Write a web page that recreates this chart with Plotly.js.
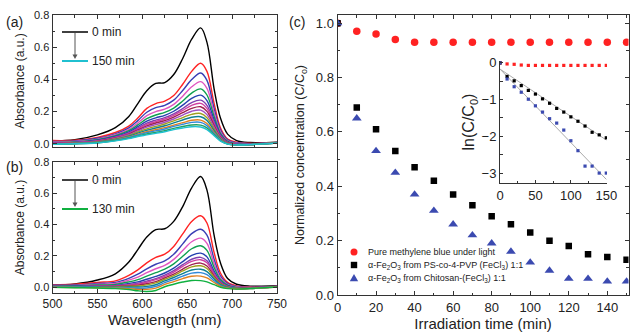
<!DOCTYPE html>
<html><head><meta charset="utf-8">
<script src="https://cdn.plot.ly/plotly-3.0.1.min.js"></script>
<style>html,body{margin:0;padding:0;background:#fff}#chart{width:633px;height:333px}</style>
</head><body><div id="chart"></div>
<script>
// ---------- DATA ----------
const wavelength = [500,525,550,570,585,595,605,615,625,635,645,655,665,672,680,687,695,705,720,750];

// Panel (a): spectra every 10 min, 0-150 min
const timesA = [0,10,20,30,40,50,60,70,80,90,100,110,120,130,140,150];
const spectraA = [
  [0.016,0.025,0.055,0.10,0.17,0.25,0.33,0.375,0.38,0.43,0.53,0.65,0.72,0.63,0.34,0.16,0.06,0.02,0.008,0.01],
  [0.02,0.022,0.04,0.07,0.11,0.16,0.22,0.25,0.265,0.30,0.37,0.45,0.50,0.45,0.25,0.10,0.03,0.01,0.003,0.008],
  [0.015,0.018,0.034,0.062,0.099,0.144,0.196,0.224,0.239,0.271,0.331,0.399,0.44,0.394,0.219,0.087,0.024,0.006,0.001,0.008],
  [0.012,0.015,0.029,0.056,0.089,0.129,0.175,0.200,0.215,0.245,0.296,0.354,0.386,0.344,0.192,0.075,0.019,0.003,-0.001,0.007],
  [0.009,0.012,0.025,0.050,0.081,0.117,0.156,0.179,0.195,0.222,0.266,0.315,0.341,0.303,0.169,0.065,0.015,0.001,-0.002,0.007],
  [0.006,0.009,0.022,0.045,0.074,0.106,0.141,0.161,0.177,0.202,0.240,0.282,0.302,0.268,0.149,0.057,0.011,-0.002,-0.003,0.007],
  [0.004,0.008,0.019,0.041,0.068,0.097,0.128,0.147,0.162,0.186,0.219,0.256,0.271,0.239,0.133,0.051,0.008,-0.003,-0.004,0.007],
  [0.003,0.006,0.017,0.039,0.064,0.092,0.120,0.138,0.154,0.177,0.207,0.239,0.251,0.220,0.123,0.046,0.007,-0.004,-0.004,0.006],
  [0.001,0.005,0.015,0.036,0.060,0.086,0.111,0.129,0.144,0.166,0.193,0.220,0.230,0.201,0.113,0.042,0.005,-0.005,-0.005,0.006],
  [0.000,0.004,0.013,0.033,0.056,0.080,0.103,0.119,0.134,0.154,0.178,0.202,0.209,0.181,0.102,0.037,0.003,-0.006,-0.005,0.006],
  [-0.001,0.003,0.012,0.030,0.051,0.073,0.093,0.108,0.123,0.142,0.163,0.183,0.188,0.162,0.091,0.033,0.002,-0.007,-0.005,0.006],
  [-0.002,0.002,0.010,0.027,0.047,0.066,0.084,0.098,0.112,0.130,0.148,0.165,0.168,0.145,0.081,0.029,0.001,-0.007,-0.005,0.005],
  [-0.002,0.001,0.008,0.024,0.042,0.059,0.075,0.087,0.100,0.116,0.131,0.146,0.147,0.126,0.071,0.025,0.000,-0.007,-0.005,0.005],
  [-0.003,0.001,0.007,0.022,0.039,0.055,0.069,0.080,0.092,0.108,0.121,0.133,0.133,0.113,0.064,0.022,-0.001,-0.007,-0.005,0.005],
  [-0.003,0.000,0.006,0.020,0.035,0.049,0.061,0.071,0.082,0.096,0.107,0.117,0.116,0.099,0.056,0.019,-0.002,-0.007,-0.005,0.004],
  [-0.003,0.000,0.005,0.018,0.032,0.045,0.055,0.065,0.075,0.088,0.098,0.106,0.104,0.088,0.050,0.017,-0.002,-0.007,-0.005,0.004]
];

// Panel (b): spectra every 10 min, 0-130 min
const timesB = [0,10,20,30,40,50,60,70,80,90,100,110,120,130];
const spectraB = [
  [0.012,0.02,0.045,0.085,0.16,0.24,0.32,0.368,0.373,0.42,0.515,0.635,0.707,0.62,0.33,0.155,0.055,0.018,0.006,0.008],
  [0.015,0.018,0.03,0.04,0.075,0.11,0.155,0.19,0.21,0.26,0.34,0.42,0.456,0.41,0.22,0.09,0.03,0.008,0.0,0.006],
  [0.012,0.013,0.023,0.030,0.056,0.082,0.117,0.146,0.167,0.210,0.276,0.342,0.370,0.332,0.178,0.071,0.022,0.004,-0.002,0.005],
  [0.009,0.010,0.018,0.023,0.044,0.064,0.092,0.117,0.138,0.177,0.234,0.290,0.313,0.280,0.149,0.059,0.016,0.001,-0.003,0.004],
  [0.007,0.008,0.013,0.017,0.033,0.048,0.070,0.092,0.114,0.148,0.197,0.245,0.264,0.235,0.125,0.048,0.012,-0.002,-0.005,0.003],
  [0.005,0.005,0.009,0.011,0.023,0.033,0.050,0.068,0.090,0.121,0.163,0.202,0.217,0.193,0.102,0.038,0.007,-0.004,-0.006,0.003],
  [0.004,0.004,0.007,0.008,0.017,0.024,0.038,0.054,0.077,0.105,0.143,0.178,0.190,0.168,0.089,0.032,0.004,-0.006,-0.006,0.002],
  [0.004,0.003,0.006,0.006,0.013,0.019,0.031,0.047,0.069,0.096,0.132,0.164,0.175,0.155,0.081,0.028,0.003,-0.006,-0.007,0.002],
  [0.003,0.002,0.004,0.004,0.009,0.012,0.021,0.035,0.058,0.083,0.115,0.144,0.153,0.135,0.070,0.024,0.001,-0.007,-0.007,0.002],
  [0.002,0.001,0.002,0.001,0.005,0.007,0.014,0.027,0.050,0.073,0.103,0.129,0.136,0.119,0.062,0.020,-0.001,-0.008,-0.008,0.001],
  [0.001,0.000,0.000,-0.001,0.000,0.000,0.004,0.015,0.039,0.061,0.086,0.109,0.114,0.099,0.051,0.015,-0.003,-0.009,-0.008,0.001],
  [0.000,-0.001,-0.002,-0.004,-0.005,-0.008,-0.006,0.004,0.028,0.048,0.070,0.089,0.092,0.079,0.040,0.010,-0.005,-0.010,-0.009,0.001],
  [-0.001,-0.003,-0.004,-0.007,-0.010,-0.015,-0.015,-0.007,0.017,0.035,0.054,0.069,0.070,0.059,0.029,0.005,-0.007,-0.012,-0.009,0.000],
  [-0.002,-0.004,-0.006,-0.010,-0.016,-0.024,-0.028,-0.022,0.002,0.018,0.032,0.042,0.041,0.033,0.015,-0.001,-0.010,-0.013,-0.010,0.000]
];

// Panel (c): normalized concentration vs irradiation time
const irradTime = [0,10,20,30,40,50,60,70,80,90,100,110,120,130,140,150];
const pureMB   = [1.0,0.97,0.96,0.94,0.93,0.93,0.93,0.93,0.93,0.93,0.93,0.93,0.93,0.93,0.93,0.93];
const psPVP    = [1.0,0.69,0.61,0.53,0.47,0.42,0.37,0.33,0.29,0.26,0.23,0.20,0.18,0.15,0.14,0.13];
const chitosan = [1.0,0.65,0.53,0.45,0.37,0.31,0.26,0.22,0.19,0.16,0.12,0.09,0.06,0.06,0.05,0.05];

// Inset: ln(C/C0)
const lnMB   = [0,-0.03,-0.04,-0.06,-0.07,-0.07,-0.07,-0.07,-0.07,-0.07,-0.07,-0.07,-0.07,-0.07,-0.07,-0.07];
const lnPVP  = [0,-0.37,-0.49,-0.62,-0.75,-0.85,-0.98,-1.10,-1.24,-1.34,-1.47,-1.59,-1.72,-1.89,-1.96,-2.04];
const lnChi  = [0,-0.44,-0.65,-0.80,-0.99,-1.17,-1.34,-1.52,-1.64,-1.83,-2.12,-2.39,-2.81,-2.81,-3.00,-3.00];
const fitTime = [0,150];
const fitPVP  = [-0.17,-2.10];
const fitChi  = [-0.17,-3.17];

const legendLabels = ['Pure methylene blue under light',
  'α-Fe<sub>2</sub>O<sub>3</sub> from PS-co-4-PVP (FeCl<sub>3</sub>) 1:1',
  'α-Fe<sub>2</sub>O<sub>3</sub> from Chitosan-(FeCl<sub>3</sub>) 1:1'];

// ---------- STYLE ----------
const paletteA = ['#000000','#ff2424','#3a3fb5','#e055c0','#10a050','#2440b0','#8040b0','#d040a0',
                  '#a02050','#a050c0','#a0a020','#108090','#e08020','#3088d8','#20a060','#20c0d0'];
const paletteB = ['#000000','#ff2424','#3a3fb5','#e055c0','#10a050','#2440b0','#8040b0','#d040a0',
                  '#a02050','#a0a020','#108090','#3088d8','#e08020','#10b040'];
const FONT = 'Arial, "Liberation Sans", sans-serif';
const W = 633, H = 333;
const px = x => x / W, py = y => 1 - y / H;

const traces = [];
spectraA.forEach((s, i) => traces.push({
  x: wavelength, y: s, type: 'scatter', mode: 'lines', name: timesA[i] + ' min',
  xaxis: 'x', yaxis: 'y', line: {color: paletteA[i], width: 1.4, shape: 'spline', smoothing: 1},
  showlegend: false, hoverinfo: 'skip'
}));
spectraB.forEach((s, i) => traces.push({
  x: wavelength, y: s, type: 'scatter', mode: 'lines', name: timesB[i] + ' min',
  xaxis: 'x2', yaxis: 'y2', line: {color: paletteB[i], width: 1.4, shape: 'spline', smoothing: 1},
  showlegend: false, hoverinfo: 'skip'
}));
traces.push({x: irradTime, y: pureMB, type: 'scatter', mode: 'markers', name: legendLabels[0],
  xaxis: 'x3', yaxis: 'y3', marker: {color: '#ff2222', size: 7.5, symbol: 'circle'}, showlegend: false});
traces.push({x: irradTime, y: psPVP, type: 'scatter', mode: 'markers', name: legendLabels[1],
  xaxis: 'x3', yaxis: 'y3', marker: {color: '#000000', size: 6.5, symbol: 'square'}, showlegend: false});
traces.push({x: irradTime, y: chitosan, type: 'scatter', mode: 'markers', name: legendLabels[2],
  xaxis: 'x3', yaxis: 'y3', marker: {color: '#3b4ab0', size: 8.5, symbol: 'triangle-up'}, showlegend: false});
// inset
traces.push({x: fitTime, y: fitPVP, type: 'scatter', mode: 'lines', xaxis: 'x4', yaxis: 'y4',
  line: {color: '#aaaaaa', width: 1}, showlegend: false, hoverinfo: 'skip'});
traces.push({x: fitTime, y: fitChi, type: 'scatter', mode: 'lines', xaxis: 'x4', yaxis: 'y4',
  line: {color: '#aaaaaa', width: 1}, showlegend: false, hoverinfo: 'skip'});
traces.push({x: irradTime, y: lnMB, type: 'scatter', mode: 'markers', xaxis: 'x4', yaxis: 'y4',
  marker: {color: '#ff2222', size: 3.2, symbol: 'square'}, showlegend: false});
traces.push({x: irradTime, y: lnPVP, type: 'scatter', mode: 'markers', xaxis: 'x4', yaxis: 'y4',
  marker: {color: '#000000', size: 3.2, symbol: 'square'}, showlegend: false});
traces.push({x: irradTime, y: lnChi, type: 'scatter', mode: 'markers', xaxis: 'x4', yaxis: 'y4',
  marker: {color: '#3b4ab0', size: 3.2, symbol: 'square'}, showlegend: false});

const frame = {
  showline: true, linecolor: '#333', linewidth: 1, mirror: 'allticks',
  ticks: 'inside', ticklen: 4, tickcolor: '#333', tickwidth: 1,
  showgrid: false, zeroline: false, fixedrange: true
};
const minorT = d => ({dtick: d, ticks: 'inside', ticklen: 2.5, tickcolor: '#333', showgrid: false});

const layout = {
  width: W, height: H, margin: {l: 0, r: 0, t: 0, b: 0},
  paper_bgcolor: '#fff', plot_bgcolor: 'rgba(0,0,0,0)',
  font: {family: FONT, color: '#222', size: 12},
  showlegend: false,
  xaxis: Object.assign({}, frame, {domain: [px(52.5), px(277)], range: [500, 750], anchor: 'y',
    dtick: 50, showticklabels: false, minor: minorT(25)}),
  yaxis: Object.assign({}, frame, {domain: [py(147), py(15)], range: [-0.02, 0.8], anchor: 'x',
    dtick: 0.2, tickformat: '.1f', tickfont: {size: 11}, minor: minorT(0.1),
    title: {text: 'Absorbance (a.u.)', font: {size: 12}, standoff: 6}}),
  xaxis2: Object.assign({}, frame, {domain: [px(52.5), px(277)], range: [500, 750], anchor: 'y2',
    dtick: 50, tickfont: {size: 12}, minor: minorT(25),
    title: {text: 'Wavelength (nm)', font: {size: 15}, standoff: 4}}),
  yaxis2: Object.assign({}, frame, {domain: [py(293), py(162)], range: [-0.038, 0.8], anchor: 'x2',
    dtick: 0.2, tickformat: '.1f', tickfont: {size: 11}, minor: minorT(0.1),
    title: {text: 'Absorbance (a.u.)', font: {size: 12}, standoff: 6}}),
  xaxis3: Object.assign({}, frame, {domain: [px(337.5), px(628.5)], range: [0, 151], anchor: 'y3',
    dtick: 20, tickfont: {size: 13}, minor: minorT(10),
    title: {text: 'Irradiation time (min)', font: {size: 15}, standoff: 4}}),
  yaxis3: Object.assign({}, frame, {domain: [py(295), py(15)], range: [0, 1.03], anchor: 'x3',
    dtick: 0.2, tickformat: '.1f', tickfont: {size: 13}, minor: minorT(0.1),
    title: {text: 'Normalized concentration (C/C<sub>o</sub>)', font: {size: 12.5}, standoff: 8}}),
  xaxis4: {domain: [px(500), px(607)], range: [0, 151], anchor: 'y4', showline: true, linecolor: '#333',
    linewidth: 1, mirror: false, ticks: 'inside', ticklen: 3, tickcolor: '#333', dtick: 50,
    tickfont: {size: 13}, showgrid: false, zeroline: false, fixedrange: true, minor: minorT(25)},
  yaxis4: {domain: [py(183), py(61)], range: [-3.27, 0.05], anchor: 'x4', showline: true, linecolor: '#333',
    linewidth: 1, mirror: false, ticks: 'inside', ticklen: 3, tickcolor: '#333', dtick: 1,
    tickfont: {size: 13}, showgrid: false, zeroline: false, fixedrange: true, minor: minorT(0.5),
    title: {text: 'ln(C/C<sub>0</sub>)', font: {size: 16}, standoff: 2}},
  shapes: [],
  annotations: []
};

const ann = (x, y, text, size, anchor) => ({xref: 'paper', yref: 'paper', x: px(x), y: py(y), text: text,
  showarrow: false, xanchor: anchor || 'left', yanchor: 'middle', font: {size: size, color: '#222'}});

// panel labels
layout.annotations.push(ann(15, 22, '(a)', 14, 'center'));
layout.annotations.push(ann(15, 167, '(b)', 14, 'center'));
layout.annotations.push(ann(297, 22, '(c)', 14, 'center'));

// (a) and (b) legends: sample lines, labels and a downward arrow
function specLegend(yTop, yBot, colTop, colBot, labTop, labBot) {
  layout.shapes.push({type: 'line', xref: 'paper', yref: 'paper', x0: px(62), x1: px(88), y0: py(yTop), y1: py(yTop),
    line: {color: colTop, width: 1.5}});
  layout.shapes.push({type: 'line', xref: 'paper', yref: 'paper', x0: px(62), x1: px(88), y0: py(yBot), y1: py(yBot),
    line: {color: colBot, width: 2}});
  layout.annotations.push(ann(90, yTop, labTop, 12));
  layout.annotations.push(ann(90, yBot, labBot, 12));
  layout.shapes.push({type: 'line', xref: 'paper', yref: 'paper', x0: px(75), x1: px(75), y0: py(yTop + 1), y1: py(yBot - 6),
    line: {color: '#555', width: 1}});
  layout.shapes.push({type: 'path', xref: 'paper', yref: 'paper', xsizemode: 'pixel', ysizemode: 'pixel',
    xanchor: px(75), yanchor: py(yBot - 2), path: 'M -2.5 4.5 L 2.5 4.5 L 0 0 Z', fillcolor: '#555', line: {width: 0}});
}
specLegend(32, 61, paletteA[0], paletteA[15], timesA[0] + ' min', timesA[15] + ' min');
specLegend(180, 209, paletteB[0], paletteB[13], timesB[0] + ' min', timesB[13] + ' min');

// (c) legend
const legX = 354, legRows = [252, 265, 278];
layout.shapes.push({type: 'circle', xref: 'paper', yref: 'paper', xsizemode: 'pixel', ysizemode: 'pixel',
  xanchor: px(legX), yanchor: py(legRows[0]), x0: -3.5, x1: 3.5, y0: -3.5, y1: 3.5,
  fillcolor: '#ff2222', line: {width: 0}});
layout.shapes.push({type: 'rect', xref: 'paper', yref: 'paper', xsizemode: 'pixel', ysizemode: 'pixel',
  xanchor: px(legX), yanchor: py(legRows[1]), x0: -3.2, x1: 3.2, y0: -3.2, y1: 3.2,
  fillcolor: '#000', line: {width: 0}});
layout.shapes.push({type: 'path', xref: 'paper', yref: 'paper', xsizemode: 'pixel', ysizemode: 'pixel',
  xanchor: px(legX), yanchor: py(legRows[2]), path: 'M -4.2 -3.2 L 4.2 -3.2 L 0 4 Z',
  fillcolor: '#3b4ab0', line: {width: 0}});
legendLabels.forEach((t, i) => layout.annotations.push(ann(366, legRows[i], t, 9)));

Plotly.newPlot('chart', traces, layout, {staticPlot: true});
</script>
</body></html>
